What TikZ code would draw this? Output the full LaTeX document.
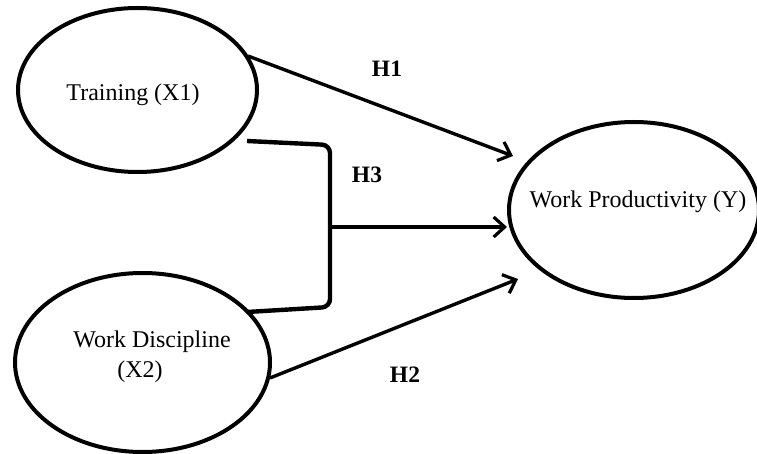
\documentclass[tikz,border=0pt]{standalone}
\usepackage{fontspec}
\setmainfont{Liberation Serif}
\usetikzlibrary{shapes.geometric,arrows.meta}
\tikzset{
  var/.style={ellipse,draw=black,line width=4pt,inner sep=0pt},
  lbl/.style={font=\fontsize{24}{28}\selectfont,inner sep=0pt},
  hyp/.style={font=\fontsize{23.5}{28}\selectfont\bfseries,inner sep=0pt},
  conn/.style={line width=3.4pt,-{Straight Barb[length=11pt,width=20pt,line width=3.2pt]}},
  brk/.style={line width=4.4pt,rounded corners=8pt}
}
\begin{document}
\begin{tikzpicture}[x=1pt,y=-1pt]
\useasboundingbox (0,0) rectangle (757,454);
\fill[white] (0,0) rectangle (757,454);
% ellipses
\node[var,minimum width=239pt,minimum height=164pt] (x1) at (137.5,90) {};
\node[var,minimum width=255pt,minimum height=179pt] (x2) at (142.5,362.5) {};
\node[var,minimum width=250pt,minimum height=176pt] (y) at (634,210) {};
% texts
\node[lbl] (tx1) at (133,95) {Training (X1)};
\node[lbl] (tx2a) at (152,342) {Work Discipline};
\node[lbl] (tx2b) at (140,372) {(X2)};
\node[lbl] (ty) at (638,202) {Work Productivity (Y)};
% hypothesis labels
\node[hyp] (h1) at (387,69) {H1};
\node[hyp] (h3) at (367,175) {H3};
\node[hyp] (h2) at (405,375) {H2};
% connector points
\coordinate (s1) at (248,56);
\coordinate (e1) at (513,156);
\coordinate (s2) at (270,378);
\coordinate (e2) at (518,279);
\coordinate (bt) at (247,141);
\coordinate (bb) at (247,312);
\coordinate (bm) at (330,227);
\coordinate (e3) at (507,227);
% arrows
\draw[conn] (s1) -- (e1);
\draw[conn] (s2) -- (e2);
\draw[brk] (bt) -- (330,145) -- (330,307) -- (bb);
\draw[conn] (bm) -- (e3);
\end{tikzpicture}
\end{document}
